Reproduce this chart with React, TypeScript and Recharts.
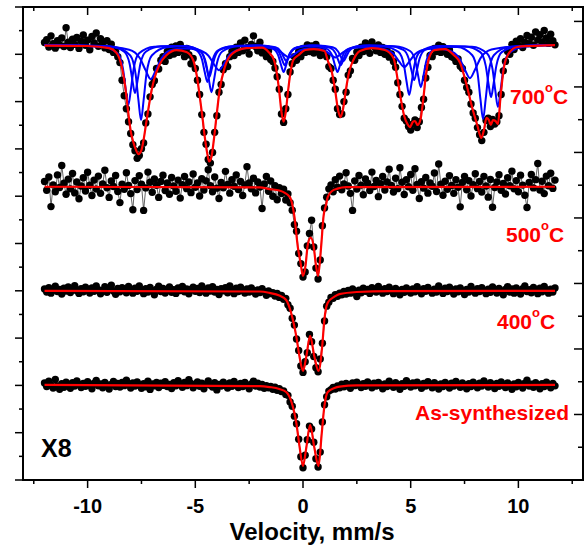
import React from 'react'
import { ComposedChart, Line, XAxis, YAxis } from 'recharts'

const FONT = '"Liberation Sans", Arial, Helvetica, sans-serif'

// channel velocities: -12.0 ... 11.7 mm/s in 0.1 steps
const V_START = -12
const V_STEP = 0.1

// measured spectra, one value per channel (rows of 10 channels, each row starts at an integer velocity)
const counts700 = [
  1850, 1862, 1831, 1878, 1845, 1826, 1858, 1840, 1869, 1833,
  1912, 1851, 1829, 1864, 1842, 1871, 1825, 1855, 1882, 1838,
  1860, 1819, 1875, 1848, 1890, 1834, 1866, 1851, 1827, 1858,
  1820, 1843, 1808, 1812, 1790, 1765, 1690, 1625, 1570, 1515,
  1465, 1418, 1392, 1360, 1372, 1401, 1425, 1510, 1548, 1620,
  1672, 1688, 1740, 1738, 1775, 1790, 1770, 1812, 1795, 1830,
  1801, 1835, 1808, 1842, 1815, 1790, 1825, 1798, 1760, 1782,
  1740, 1690, 1630, 1545, 1470, 1420, 1355, 1340, 1385, 1470,
  1540, 1640, 1672, 1735, 1760, 1748, 1790, 1812, 1795, 1830,
  1808, 1848, 1815, 1860, 1828, 1801, 1842, 1878, 1833, 1815,
  1851, 1806, 1822, 1790, 1815, 1778, 1770, 1742, 1705, 1652,
  1548, 1512, 1570, 1630, 1725, 1760, 1790, 1775, 1812, 1790,
  1825, 1808, 1840, 1812, 1835, 1805, 1842, 1818, 1795, 1820,
  1802, 1790, 1748, 1740, 1690, 1652, 1570, 1545, 1548, 1600,
  1640, 1712, 1730, 1782, 1775, 1810, 1795, 1830, 1812, 1848,
  1826, 1804, 1852, 1833, 1815, 1840, 1808, 1829, 1800, 1818,
  1788, 1802, 1770, 1745, 1680, 1630, 1580, 1530, 1518, 1495,
  1480, 1505, 1522, 1490, 1515, 1575, 1610, 1700, 1745, 1795,
  1790, 1825, 1812, 1838, 1808, 1832, 1815, 1800, 1818, 1790,
  1785, 1770, 1780, 1750, 1740, 1690, 1660, 1640, 1590, 1552,
  1530, 1490, 1460, 1435, 1470, 1520, 1530, 1495, 1525, 1505,
  1515, 1540, 1630, 1730, 1770, 1812, 1800, 1842, 1820, 1855,
  1838, 1866, 1829, 1851, 1880, 1845, 1872, 1838, 1895, 1860,
  1883, 1852, 1901, 1869, 1846, 1885, 1858, 1840,
]

const counts500 = [
  1262, 1225, 1281, 1156, 1248, 1219, 1290, 1237, 1330, 1255,
  1208, 1272, 1231, 1296, 1214, 1260, 1189, 1243, 1278, 1222,
  1301, 1246, 1203, 1268, 1230, 1285, 1212, 1252, 1310, 1236,
  1195, 1264, 1241, 1288, 1220, 1173, 1251, 1229, 1299, 1245,
  1211, 1143, 1266, 1228, 1287, 1251, 1140, 1235, 1302, 1259,
  1217, 1273, 1246, 1195, 1262, 1289, 1224, 1256, 1208, 1279,
  1243, 1221, 1268, 1192, 1249, 1283, 1232, 1260, 1215, 1294,
  1238, 1256, 1201, 1274, 1226, 1265, 1312, 1244, 1219, 1281,
  1234, 1190, 1258, 1236, 1305, 1250, 1213, 1270, 1242, 1290,
  1228, 1262, 1203, 1248, 1325, 1256, 1231, 1276, 1214, 1260,
  1239, 1148, 1252, 1283, 1221, 1264, 1200, 1244, 1185, 1236,
  1211, 1230, 1184, 1209, 1172, 1141, 1080, 1052, 958, 915,
  858, 880, 990, 1042, 1098, 985, 896, 850, 930, 1075,
  1150, 1196, 1231, 1248, 1219, 1270, 1238, 1285, 1227, 1252,
  1299, 1243, 1212, 1140, 1265, 1230, 1288, 1247, 1206, 1273,
  1255, 1224, 1302, 1241, 1267, 1198, 1253, 1283, 1226, 1260,
  1314, 1245, 1218, 1276, 1232, 1320, 1259, 1207, 1270, 1240,
  1292, 1225, 1316, 1250, 1190, 1261, 1234, 1279, 1213, 1256,
  1242, 1298, 1220, 1336, 1251, 1204, 1263, 1229, 1287, 1245,
  1212, 1270, 1238, 1155, 1258, 1283, 1227, 1266, 1201, 1249,
  1295, 1232, 1262, 1218, 1284, 1243, 1196, 1271, 1153, 1237,
  1260, 1291, 1225, 1254, 1209, 1278, 1244, 1306, 1231, 1266,
  1219, 1289, 1247, 1204, 1152, 1258, 1292, 1235, 1270, 1338,
  1226, 1263, 1211, 1285, 1244, 1297, 1233, 1268,
]

const counts400 = [
  808, 795, 813, 790, 802, 819, 797, 806, 786, 811,
  799, 816, 793, 804, 822, 800, 789, 809, 796, 815,
  803, 791, 812, 798, 820, 805, 787, 801, 817, 794,
  808, 824, 799, 785, 810, 796, 813, 802, 792, 818,
  806, 790, 811, 798, 821, 804, 788, 809, 795, 814,
  800, 783, 807, 819, 797, 810, 791, 803, 816, 794,
  805, 789, 812, 801, 818, 796, 808, 787, 806, 815,
  798, 810, 793, 820, 803, 790, 812, 799, 817, 795,
  806, 784, 809, 800, 813, 792, 821, 804, 788, 811,
  797, 815, 802, 791, 808, 795, 812, 800, 786, 804,
  793, 809, 796, 781, 799, 788, 792, 778, 789, 772,
  780, 764, 768, 741, 726, 684, 655, 596, 548, 482,
  455, 500, 538, 615, 585, 522, 475, 458, 512, 578,
  672, 735, 752, 772, 768, 784, 777, 790, 783, 797,
  786, 801, 790, 808, 794, 776, 803, 792, 811, 798,
  806, 789, 813, 800, 795, 818, 802, 790, 809, 797,
  815, 803, 788, 810, 799, 783, 806, 794, 812, 800,
  791, 808, 796, 817, 802, 787, 809, 798, 814, 801,
  790, 807, 795, 820, 803, 789, 811, 797, 815, 800,
  786, 808, 796, 812, 799, 784, 806, 795, 818, 802,
  790, 809, 797, 813, 801, 788, 807, 794, 816, 803,
  791, 810, 798, 783, 806, 817, 795, 808, 790, 812,
  799, 786, 809, 820, 797, 805, 792, 814, 800, 788,
  811, 796, 818, 803, 790, 807, 795, 812,
]

const countsAs = [
  410, 395, 418, 401, 389, 425, 398, 384, 407, 392,
  414, 403, 388, 411, 397, 419, 405, 391, 408, 396,
  416, 400, 386, 409, 421, 398, 406, 390, 413, 402,
  385, 404, 417, 395, 408, 393, 412, 399, 422, 405,
  389, 410, 397, 415, 402, 388, 407, 394, 418, 383,
  406, 398, 412, 391, 409, 400, 416, 395, 404, 387,
  411, 398, 420, 406, 392, 413, 399, 424, 408, 390,
  402, 415, 396, 409, 386, 405, 419, 401, 393, 411,
  381, 404, 397, 414, 400, 389, 410, 396, 417, 403,
  391, 408, 395, 413, 400, 386, 406, 418, 397, 409,
  393, 404, 388, 399, 390, 396, 384, 392, 379, 386,
  374, 377, 362, 358, 330, 312, 270, 238, 172, 98,
  52, 105, 170, 228, 216, 160, 90, 55, 118, 245,
  318, 352, 376, 382, 391, 385, 398, 390, 405, 394,
  408, 397, 388, 410, 399, 414, 402, 391, 407, 396,
  415, 403, 390, 409, 397, 412, 401, 386, 406, 395,
  418, 404, 392, 411, 399, 384, 407, 396, 420, 405,
  393, 410, 398, 414, 402, 388, 408, 397, 416, 403,
  390, 411, 399, 385, 406, 395, 413, 401, 389, 409,
  397, 417, 404, 392, 410, 398, 386, 407, 395, 414,
  402, 390, 409, 397, 419, 405, 393, 411, 400, 387,
  408, 396, 415, 403, 391, 410, 398, 384, 406, 394,
  413, 401, 389, 409, 422, 397, 405, 392, 411, 399,
  386, 407, 395, 414, 402, 390, 408, 398,
]

// fitted envelopes, [velocity, counts]
const fit700 = [
  [-12, 1837], [-10, 1835], [-9, 1826], [-8.65, 1805], [-8.42, 1750], [-8.26, 1666], [-8.11, 1552],
  [-7.99, 1471], [-7.88, 1429], [-7.75, 1395], [-7.64, 1378], [-7.5, 1395], [-7.38, 1450], [-7.26, 1522],
  [-7.11, 1607], [-6.92, 1691], [-6.67, 1755], [-6.33, 1797], [-5.87, 1818], [-5.41, 1810], [-5.1, 1776],
  [-4.92, 1704], [-4.79, 1619], [-4.67, 1535], [-4.56, 1450], [-4.45, 1383], [-4.36, 1347], [-4.25, 1366],
  [-4.14, 1438], [-4.02, 1535], [-3.87, 1649], [-3.63, 1746], [-3.25, 1805], [-2.63, 1826], [-1.9, 1828],
  [-1.6, 1810], [-1.35, 1776], [-1.2, 1712], [-1.1, 1640], [-1.0, 1556], [-0.9, 1515], [-0.8, 1556],
  [-0.7, 1640], [-0.6, 1712], [-0.45, 1776], [-0.2, 1797], [0.1, 1818], [0.5, 1822], [1.0, 1814],
  [1.14, 1776], [1.34, 1725], [1.49, 1649], [1.62, 1569], [1.74, 1534], [1.86, 1569], [1.99, 1649],
  [2.14, 1725], [2.34, 1776], [2.64, 1814], [3.2, 1826], [3.8, 1818], [4.2, 1784], [4.4, 1691],
  [4.55, 1607], [4.7, 1539], [4.85, 1505], [4.96, 1492], [5.1, 1514], [5.2, 1518], [5.32, 1501],
  [5.45, 1522], [5.58, 1607], [5.7, 1708], [5.85, 1784], [6.1, 1818], [6.6, 1822], [7.0, 1797],
  [7.3, 1763], [7.56, 1683], [7.86, 1573], [8.09, 1501], [8.28, 1446], [8.4, 1480], [8.52, 1531],
  [8.63, 1522], [8.72, 1501], [8.82, 1522], [8.94, 1518], [9.05, 1505], [9.17, 1619], [9.33, 1746],
  [9.56, 1805], [9.95, 1831], [10.5, 1835], [11.7, 1839],
]

const fit500 = [
  [-12, 1240], [-2.0, 1237], [-1.55, 1230], [-1.1, 1224], [-0.62, 1198], [-0.39, 1108], [-0.24, 985],
  [-0.12, 922], [0.0, 863], [0.12, 909], [0.22, 994], [0.36, 1025], [0.5, 985], [0.6, 909], [0.7, 863],
  [0.84, 985], [0.96, 1120], [1.07, 1163], [1.15, 1197], [1.35, 1222], [1.6, 1232], [2.0, 1238], [11.7, 1240],
]

const fit400 = [
  [-12, 800], [-2.0, 797], [-1.55, 791], [-1.1, 780], [-0.78, 761], [-0.55, 706], [-0.31, 606],
  [-0.16, 521], [0.0, 461], [0.15, 521], [0.33, 609], [0.53, 521], [0.72, 461], [0.89, 564], [0.99, 676],
  [1.15, 750], [1.46, 775], [1.69, 786], [2.5, 795], [4.0, 799], [11.7, 800],
]

const fitAs = [
  [-12, 402], [-2.0, 397], [-1.55, 393], [-1.1, 385], [-0.78, 372], [-0.55, 334], [-0.31, 241],
  [-0.16, 141], [0.0, 59], [0.15, 135], [0.33, 233], [0.53, 135], [0.72, 59], [0.87, 197], [0.99, 310],
  [1.15, 372], [1.46, 389], [1.7, 395], [2.5, 400], [11.7, 402],
]

// 700 °C sextet sub-spectra (blue)
const sextetA = [
  [-12, 1839], [-8.72, 1830], [-8.02, 1795], [-7.77, 1715], [-7.64, 1606], [-7.52, 1522], [-7.4, 1606],
  [-7.27, 1715], [-7.02, 1795], [-6.32, 1830], [-5.45, 1834], [-4.75, 1812], [-4.5, 1761], [-4.37, 1693],
  [-4.25, 1640], [-4.13, 1693], [-4.0, 1761], [-3.75, 1812], [-3.05, 1834], [-2.1, 1836], [-1.4, 1823],
  [-1.15, 1795], [-1.02, 1755], [-0.9, 1725], [-0.78, 1755], [-0.65, 1795], [-0.4, 1823], [0.3, 1836],
  [0.4, 1836], [1.1, 1823], [1.35, 1795], [1.48, 1755], [1.6, 1725], [1.72, 1755], [1.85, 1795],
  [2.1, 1823], [2.8, 1836], [3.73, 1833], [4.43, 1810], [4.68, 1757], [4.81, 1684], [4.93, 1628],
  [5.05, 1684], [5.18, 1757], [5.43, 1810], [6.13, 1833], [7.16, 1831], [7.86, 1796], [8.11, 1717],
  [8.24, 1609], [8.36, 1526], [8.48, 1609], [8.61, 1717], [8.86, 1796], [9.56, 1831], [11.7, 1839],
]

const sextetB = [
  [-12, 1839], [-9.31, 1832], [-8.61, 1804], [-8.36, 1740], [-8.23, 1652], [-8.11, 1585], [-7.99, 1652],
  [-7.86, 1740], [-7.61, 1804], [-6.91, 1832], [-5.64, 1835], [-4.94, 1817], [-4.69, 1778], [-4.56, 1724],
  [-4.44, 1683], [-4.32, 1724], [-4.19, 1778], [-3.94, 1817], [-3.24, 1835], [-2.05, 1837], [-1.35, 1827],
  [-1.1, 1806], [-0.97, 1777], [-0.85, 1754], [-0.73, 1777], [-0.6, 1806], [-0.35, 1827], [0.35, 1837],
  [0.55, 1837], [1.25, 1827], [1.5, 1806], [1.63, 1777], [1.75, 1754], [1.87, 1777], [2.0, 1806],
  [2.25, 1827], [2.95, 1837], [4.27, 1834], [4.97, 1814], [5.22, 1770], [5.35, 1708], [5.47, 1661],
  [5.59, 1708], [5.72, 1770], [5.97, 1814], [6.67, 1834], [7.85, 1832], [8.55, 1803], [8.8, 1737],
  [8.93, 1646], [9.05, 1577], [9.17, 1646], [9.3, 1737], [9.55, 1803], [10.25, 1832], [11.7, 1839],
]

const sextetC = [
  [-12, 1839], [-9.0, 1834], [-8.3, 1811], [-8.05, 1760], [-7.92, 1690], [-7.8, 1636], [-7.68, 1690],
  [-7.55, 1760], [-7.3, 1811], [-6.6, 1834], [-5.55, 1835], [-4.85, 1820], [-4.6, 1786], [-4.47, 1740],
  [-4.35, 1704], [-4.23, 1740], [-4.1, 1786], [-3.85, 1820], [-3.15, 1835], [-1.98, 1837], [-1.28, 1830],
  [-1.03, 1812], [-0.9, 1789], [-0.78, 1771], [-0.66, 1789], [-0.53, 1812], [-0.28, 1830], [0.42, 1837],
  [0.68, 1837], [1.38, 1830], [1.63, 1812], [1.76, 1789], [1.88, 1771], [2.0, 1789], [2.13, 1812],
  [2.38, 1830], [3.08, 1837], [3.96, 1835], [4.66, 1819], [4.91, 1781], [5.04, 1730], [5.16, 1691],
  [5.28, 1730], [5.41, 1781], [5.66, 1819], [6.36, 1835], [7.53, 1833], [8.23, 1809], [8.48, 1753],
  [8.61, 1677], [8.73, 1619], [8.85, 1677], [8.98, 1753], [9.23, 1809], [9.93, 1833], [11.7, 1839],
]

const sextetD = [
  [-12, 1839], [-9.47, 1835], [-8.07, 1819], [-7.57, 1783], [-7.31, 1733], [-7.07, 1695], [-6.83, 1733],
  [-6.57, 1783], [-6.07, 1819], [-5.49, 1824], [-4.9, 1819], [-4.4, 1795], [-4.14, 1759], [-3.9, 1733],
  [-3.66, 1761], [-3.4, 1798], [-2.9, 1822], [-2.28, 1830], [-1.65, 1829], [-1.15, 1817], [-0.89, 1800],
  [-0.65, 1786], [-0.41, 1800], [-0.15, 1816], [0.35, 1826], [0.5, 1826], [1.0, 1816], [1.26, 1800],
  [1.5, 1786], [1.74, 1800], [2.0, 1817], [2.5, 1829], [3.1, 1830], [3.7, 1824], [4.2, 1802],
  [4.46, 1770], [4.7, 1746], [4.94, 1770], [5.2, 1800], [5.7, 1821], [6.22, 1824], [6.75, 1817],
  [7.25, 1784], [7.51, 1736], [7.75, 1699], [7.99, 1736], [8.25, 1785], [8.75, 1820], [10.15, 1835],
  [11.7, 1839],
]

const velocityTicks = [-12.5, -10, -7.5, -5, -2.5, 0, 2.5, 5, 7.5, 10, 12.5]
const leftTicks = Array.from({ length: 21 }, (_, i) => i * 100)
const rightTicks = Array.from({ length: 15 }, (_, i) => i)

const toSeries = (ys: number[]) =>
  ys.map((y, i) => ({ v: Math.round((V_START + i * V_STEP) * 10) / 10, y }))
const toCurve = (pts: number[][]) => pts.map(([v, y]) => ({ v, y }))

const spectra = [counts700, counts500, counts400, countsAs].map(toSeries)
const subspectra = [sextetA, sextetB, sextetC, sextetD].map(toCurve)
const envelopes = [fit700, fit500, fit400, fitAs].map(toCurve)

const W = 586
const H = 548
const tickLine = { stroke: '#000', strokeWidth: 1.5 }
const axisLine = { stroke: '#000', strokeWidth: 2, strokeLinecap: 'square' as const }

function BottomTick(props: any) {
  const { x, y, payload } = props
  const major = payload.value % 5 === 0
  return (
    <g>
      <line x1={x} x2={x} y1={y} y2={y + (major ? 8 : 4)} {...tickLine} />
      {major && (
        <text x={x} y={y + 33} textAnchor="middle" fontFamily={FONT} fontWeight="bold" fontSize={20} fill="#000">
          {payload.value}
        </text>
      )}
    </g>
  )
}

function TopTick(props: any) {
  const { x, y, payload } = props
  const major = payload.value % 5 === 0
  return <line x1={x} x2={x} y1={y} y2={y + (major ? 8 : 4)} {...tickLine} />
}

function LeftTick(props: any) {
  const { x, y, payload } = props
  const major = payload.value % 200 === 0
  return <line x1={x} x2={x - (major ? 8 : 4)} y1={y} y2={y} {...tickLine} />
}

function RightTick(props: any) {
  const { x, y, payload } = props
  const major = payload.value % 2 === 0
  return <line x1={x} x2={x - (major ? 9 : 5)} y1={y} y2={y} {...tickLine} />
}

function Degrees({ x, y, t }: { x: number; y: number; t: string }) {
  return (
    <text x={x} y={y} fontFamily={FONT} fontWeight="bold" fontSize={21} fill="#ff0000">
      {t}
      <tspan dy={-12} fontSize={13}>o</tspan>
      <tspan dy={12}>C</tspan>
    </text>
  )
}

const layer: React.CSSProperties = { position: 'absolute', left: 0, top: 0 }

export default function App() {
  return (
    <div style={{ position: 'absolute', left: 0, top: 0, width: W, height: H, background: '#fff' }}>
      {/* frame + measured points */}
      <div style={layer}>
        <ComposedChart width={W} height={H} margin={{ top: 6, right: 2, bottom: 0, left: 0 }}>
          <XAxis
            xAxisId="b"
            type="number"
            dataKey="v"
            domain={[-13, 13]}
            ticks={velocityTicks}
            interval={0}
            allowDataOverflow
            height={68}
            tickSize={0}
            tickMargin={0}
            tickLine={false}
            axisLine={axisLine}
            tick={<BottomTick />}
          />
          <XAxis
            xAxisId="t"
            orientation="top"
            type="number"
            dataKey="v"
            domain={[-13, 13]}
            ticks={velocityTicks}
            interval={0}
            allowDataOverflow
            height={1}
            tickSize={0}
            tickMargin={0}
            tickLine={false}
            axisLine={axisLine}
            tick={<TopTick />}
          />
          <YAxis
            yAxisId="l"
            type="number"
            domain={[0, 2000]}
            ticks={leftTicks}
            interval={0}
            allowDataOverflow
            width={23}
            tickSize={0}
            tickMargin={0}
            tickLine={false}
            axisLine={axisLine}
            tick={<LeftTick />}
          />
          <YAxis
            yAxisId="r"
            orientation="right"
            type="number"
            domain={[0, 14.44]}
            ticks={rightTicks}
            interval={0}
            allowDataOverflow
            width={1}
            tickSize={0}
            tickMargin={0}
            tickLine={false}
            axisLine={axisLine}
            tick={<RightTick />}
          />
          {spectra.map((d, i) => (
            <Line
              key={`data-${i}`}
              xAxisId="b"
              yAxisId="l"
              data={d}
              dataKey="y"
              type="linear"
              stroke="#222"
              strokeWidth={0.7}
              dot={{ r: 3.7, fill: '#000', stroke: '#000', strokeWidth: 0 }}
              activeDot={false}
              isAnimationActive={false}
            />
          ))}
        </ComposedChart>
      </div>

      {/* fitted curves drawn on top of the points, same plot area */}
      <div style={{ ...layer, pointerEvents: 'none' }}>
        <ComposedChart width={W} height={H} margin={{ top: 7, right: 3, bottom: 0, left: 0 }}>
          <XAxis
            xAxisId="b"
            type="number"
            dataKey="v"
            domain={[-13, 13]}
            allowDataOverflow
            height={68}
            tick={false}
            tickLine={false}
            axisLine={false}
          />
          <YAxis
            yAxisId="l"
            type="number"
            domain={[0, 2000]}
            allowDataOverflow
            width={23}
            tick={false}
            tickLine={false}
            axisLine={false}
          />
          {subspectra.map((d, i) => (
            <Line
              key={`sub-${i}`}
              xAxisId="b"
              yAxisId="l"
              data={d}
              dataKey="y"
              type="monotone"
              stroke="#0000ff"
              strokeWidth={2}
              dot={false}
              activeDot={false}
              isAnimationActive={false}
            />
          ))}
          {envelopes.map((d, i) => (
            <Line
              key={`fit-${i}`}
              xAxisId="b"
              yAxisId="l"
              data={d}
              dataKey="y"
              type="monotone"
              stroke="#ff0000"
              strokeWidth={2.2}
              dot={false}
              activeDot={false}
              isAnimationActive={false}
            />
          ))}
        </ComposedChart>
      </div>

      <svg width={W} height={H} style={{ ...layer, pointerEvents: 'none' }}>
        <Degrees x={510} y={104} t="700" />
        <Degrees x={506} y={242} t="500" />
        <Degrees x={497} y={329} t="400" />
        <text x={415} y={420} fontFamily={FONT} fontWeight="bold" fontSize={21} fill="#ff0000">
          As-synthesized
        </text>
        <text x={41} y={457} fontFamily={FONT} fontWeight="bold" fontSize={25} fill="#000">
          X8
        </text>
        <text x={312} y={540} textAnchor="middle" fontFamily={FONT} fontWeight="bold" fontSize={24} fill="#000">
          Velocity, mm/s
        </text>
      </svg>
    </div>
  )
}
